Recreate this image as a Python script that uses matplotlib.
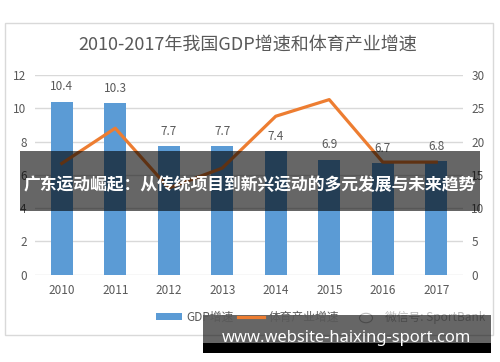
import matplotlib
matplotlib.use("Agg")
import matplotlib.pyplot as plt
from matplotlib.patches import Rectangle, Patch
from matplotlib.lines import Line2D

plt.rcParams['font.family'] = ['Noto Sans CJK SC', 'DejaVu Sans']

years = ['2010', '2011', '2012', '2013', '2014', '2015', '2016', '2017']
gdp_growth = [10.4, 10.3, 7.7, 7.7, 7.4, 6.9, 6.7, 6.8]
sport_growth = [16.7, 22.0, 13.0, 16.0, 23.8, 26.3, 16.9, 16.9]
left_ticks = [0, 2, 4, 6, 8, 10, 12]
right_ticks = [0, 5, 10, 15, 20, 25, 30]

title = '2010-2017年我国GDP增速和体育产业增速'
banner = '广东运动崛起：从传统项目到新兴运动的多元发展与未来趋势'
site = 'www.website-haixing-sport.com'
legend_labels = ['GDP增速', '体育产业增速']
watermark = '微信号: SportBank'

W, H = 500, 362
fig = plt.figure(figsize=(W / 100, H / 100), dpi=100)
fig.patch.set_facecolor('white')

def fx(x):
    return x / W

def fy(y):
    return 1 - y / H

TXT = '#595959'
GRID = '#D9D9D9'
BLUE = '#5B9BD5'
ORANGE = '#ED7D31'

# chart border
fig.patches.append(Rectangle((fx(5), fy(335)), fx(488), 312 / H, transform=fig.transFigure,
                             fill=False, edgecolor=GRID, linewidth=1.0, zorder=0.5))

ax = fig.add_axes([fx(35), fy(274.5), fx(428), 199.5 / H])
x = list(range(len(years)))
bars = ax.bar(x, gdp_growth, width=0.41, color=BLUE, zorder=2)
ax.set_xlim(-0.5, len(years) - 0.5)
ax.set_ylim(0, 12)
ax.set_yticks(left_ticks)
ax.set_xticks(x)
ax.set_xticklabels(years)
ax.yaxis.grid(True, color=GRID, linewidth=1.0, zorder=0)
ax.set_axisbelow(True)
for s in ax.spines.values():
    s.set_visible(False)
ax.tick_params(axis='both', length=0, colors=TXT, labelsize=8.5)
ax.tick_params(axis='y', pad=6)
ax.tick_params(axis='x', pad=7)
for xi, v in zip(x, gdp_growth):
    ax.annotate(f'{v}', (xi, v), xytext=(0, 6), textcoords='offset points',
                ha='center', va='bottom', fontsize=8.5, color=TXT)

ax2 = ax.twinx()
ax2.plot(x, sport_growth, color=ORANGE, linewidth=2.3, zorder=3)
ax2.set_ylim(0, 30)
ax2.set_yticks(right_ticks)
for s in ax2.spines.values():
    s.set_visible(False)
ax2.tick_params(axis='y', length=0, colors=TXT, labelsize=8.5, pad=6)

fig.text(fx(248), fy(45), title, ha='center', va='center', fontsize=13, color=TXT)

# legend
handles = [Patch(facecolor=BLUE, edgecolor='none'),
           Line2D([0], [0], color=ORANGE, linewidth=2.3)]
fig.legend(handles, legend_labels, loc='center', bbox_to_anchor=(fx(247.5), fy(317)),
           ncol=2, frameon=False, fontsize=8.5, handlelength=2.2, handleheight=0.6,
           handletextpad=0.35, columnspacing=0.4, labelcolor=TXT)

# watermark
fig.patches.append(plt.Circle((fx(366), fy(318)), 6.5 / W, transform=fig.transFigure,
                              fill=False, edgecolor='#BBBBBB', linewidth=0.8, zorder=1))
fig.text(fx(385), fy(317), watermark, ha='left', va='center', fontsize=8.5, color='#BBBBBB')

# dark overlay banner
fig.patches.append(Rectangle((fx(20), fy(211)), fx(460), 60 / H, transform=fig.transFigure,
                             facecolor='black', alpha=0.6, edgecolor='none', zorder=5))
fig.text(fx(249.5), fy(185), banner, ha='center', va='center', fontsize=12.1,
         color='white', fontweight='bold', zorder=6)

# bottom site banner
fig.patches.append(Rectangle((fx(203), fy(343)), fx(288), 28 / H, transform=fig.transFigure,
                             facecolor='black', alpha=0.6, edgecolor='none', zorder=5))
fig.patches.append(Rectangle((fx(203), fy(353)), fx(288), 10 / H, transform=fig.transFigure,
                             facecolor='black', edgecolor='none', zorder=5))
fig.text(fx(346), fy(337.5), site, ha='center', va='center', fontsize=11.9,
         color='white', fontweight='bold', family=['Noto Sans', 'DejaVu Sans'], zorder=6)

fig.savefig('out.png', dpi=100)
